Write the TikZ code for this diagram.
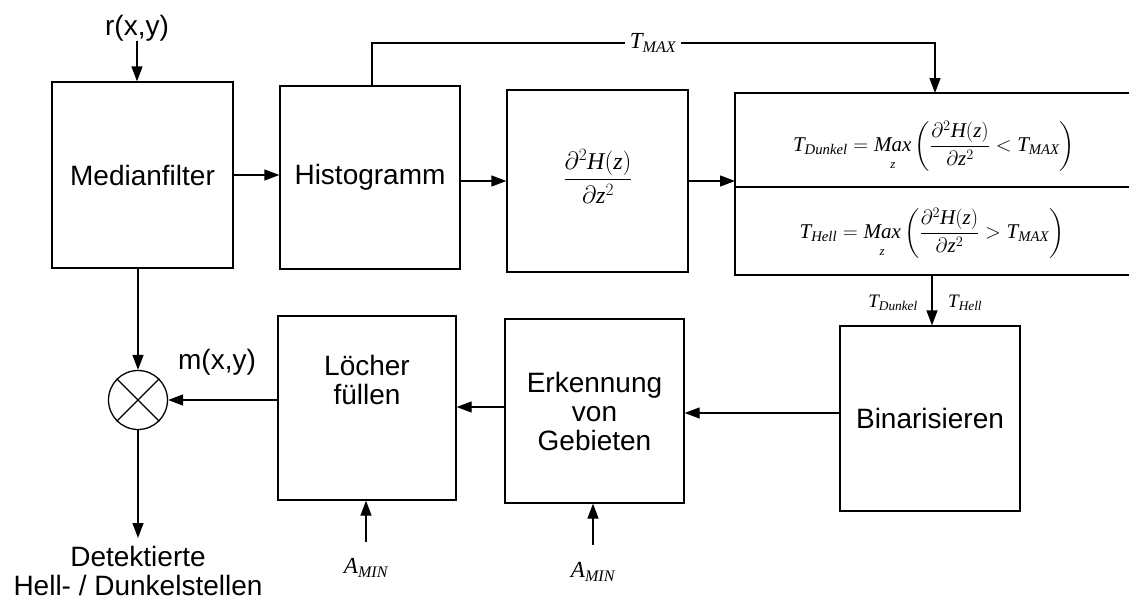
\documentclass[tikz,border=0pt]{standalone}
\usepackage{amsmath}
\usepackage{fontspec}
\setmainfont{Liberation Sans}
\newfontfamily\tms{Liberation Serif}
\newcommand{\mi}[1]{\text{\tms\itshape #1}}
\newcommand{\zlow}{\raisebox{-4pt}{\fontsize{13}{15}\selectfont\tms\itshape z}}
\usetikzlibrary{arrows.meta}
\begin{document}
\begin{tikzpicture}[x=1pt,y=-1pt,
  ln/.style={line width=1.3pt},
  box/.style={draw, line width=1.3pt, inner sep=0pt},
  lbl/.style={font=\fontsize{28}{29}\selectfont, align=center, inner sep=0pt},
  mthd/.style={font=\fontsize{24}{28}\selectfont, inner sep=0pt},
  mth/.style={font=\fontsize{23}{27}\selectfont, inner sep=0pt},
  mthb/.style={font=\fontsize{21}{25}\selectfont, inner sep=0pt},
  mths/.style={font=\fontsize{19}{22}\selectfont, inner sep=0pt},
  arr/.style={line width=1.3pt, -{Triangle[length=15pt,width=11pt]}}]
\useasboundingbox (0,0) rectangle (1129,605);
% boxes
\node[box, lbl, minimum width=181pt, minimum height=186pt] (med) at (142.5,175) {Medianfilter};
\node[box, lbl, minimum width=180pt, minimum height=183pt] (hist) at (370,177.5) {Histogramm};
\node[box, minimum width=181pt, minimum height=182pt] (d2h) at (597.5,181) {};
\node[mthd] (d2htxt) at (598,176) {$\displaystyle\frac{\partial^2 \mi{H}(\mi{z})}{\partial \mi{z}^2}$};
\node[box, lbl, minimum width=180pt, minimum height=185pt] (bin) at (930,418.5) {Binarisieren};
\node[box, lbl, minimum width=179pt, minimum height=184pt] (erk) at (594.5,411) {Erkennung\\von\\Gebieten};
\node[box, minimum width=178pt, minimum height=184pt] (loch) at (367,408) {};
\node[lbl] (lochtxt) at (367,380) {Löcher\\füllen};
% formula box (open to the right)
\coordinate (fa) at (1129,93);
\coordinate (fb) at (735,93);
\coordinate (fc) at (735,275);
\coordinate (fd) at (1129,275);
\coordinate (fe) at (735,187);
\coordinate (ff) at (1129,187);
\draw[ln] (fa) -- (fb) -- (fc) -- (fd);
\draw[ln] (fe) -- (ff);
\node[mthb] (fdunkel) at (934,146) {$\displaystyle \mi{T}_{\mi{Dunkel}}=\mathop{\mi{Max}}\limits_{\zlow}\left(\frac{\partial^2 \mi{H}(\mi{z})}{\partial \mi{z}^2}<\mi{T}_{\mi{MAX}}\right)$};
\node[mthb] (fhell) at (932,233) {$\displaystyle \mi{T}_{\mi{Hell}}=\mathop{\mi{Max}}\limits_{\zlow}\left(\frac{\partial^2 \mi{H}(\mi{z})}{\partial \mi{z}^2}>\mi{T}_{\mi{MAX}}\right)$};
% multiplier
\node[draw, circle, ln, minimum size=59pt, inner sep=0pt] (mul) at (138,400) {};
\draw[ln] (mul.north east) -- (mul.south west) (mul.north west) -- (mul.south east);
% labels
\node[lbl] (rxy) at (137,28) {r(x,y)};
\node[lbl] (mxy) at (217,362) {m(x,y)};
\node[lbl] (det) at (138,571) {Detektierte\\Hell- / Dunkelstellen};
\node[mths, anchor=east] (tdl) at (918,303) {$\mi{T}_{\mi{Dunkel}}$};
\node[mths, anchor=west] (thl) at (948,303) {$\mi{T}_{\mi{Hell}}$};
\node[mth] (am1) at (366,568) {$\mi{A}_{\mi{MIN}}$};
\node[mth] (am2) at (593,572) {$\mi{A}_{\mi{MIN}}$};
% connectors
\draw[arr] (rxy.south) -- (rxy.south |- med.north);
\draw[arr] (med.east) -- (med.east -| hist.west);
\draw[arr] (hist.east |- d2h.west) -- (d2h.west);
\draw[arr] (d2h.east) -- (d2h.east -| fb);
\coordinate (t1) at (372,43);
\coordinate (t2) at (935,43);
\draw[arr] (t1 |- hist.north) -- (t1) -- (t2) -- (t2 |- fb);
\node[mth, fill=white, inner xsep=5pt, inner ysep=2pt] (tmax) at (653,43) {$\mi{T}_{\mi{MAX}}$};
\coordinate (t3) at (932,275);
\draw[arr] (t3) -- (t3 |- bin.north);
\draw[arr] ([yshift=5.5pt]bin.west) -- ([yshift=5.5pt]bin.west -| erk.east);
\draw[arr] ([yshift=4pt]erk.west) -- ([yshift=4pt]erk.west -| loch.east);
\draw[arr] (mul.east -| loch.west) -- (mul.east);
\draw[arr] (mul.north |- med.south) -- (mul.north);
\coordinate (o1) at (138,538);
\draw[arr] (mul.south) -- (o1);
\coordinate (a1) at (366,542);
\draw[arr] (a1) -- (a1 |- loch.south);
\coordinate (a2) at (593,545);
\draw[arr] (a2) -- (a2 |- erk.south);
\end{tikzpicture}
\end{document}
